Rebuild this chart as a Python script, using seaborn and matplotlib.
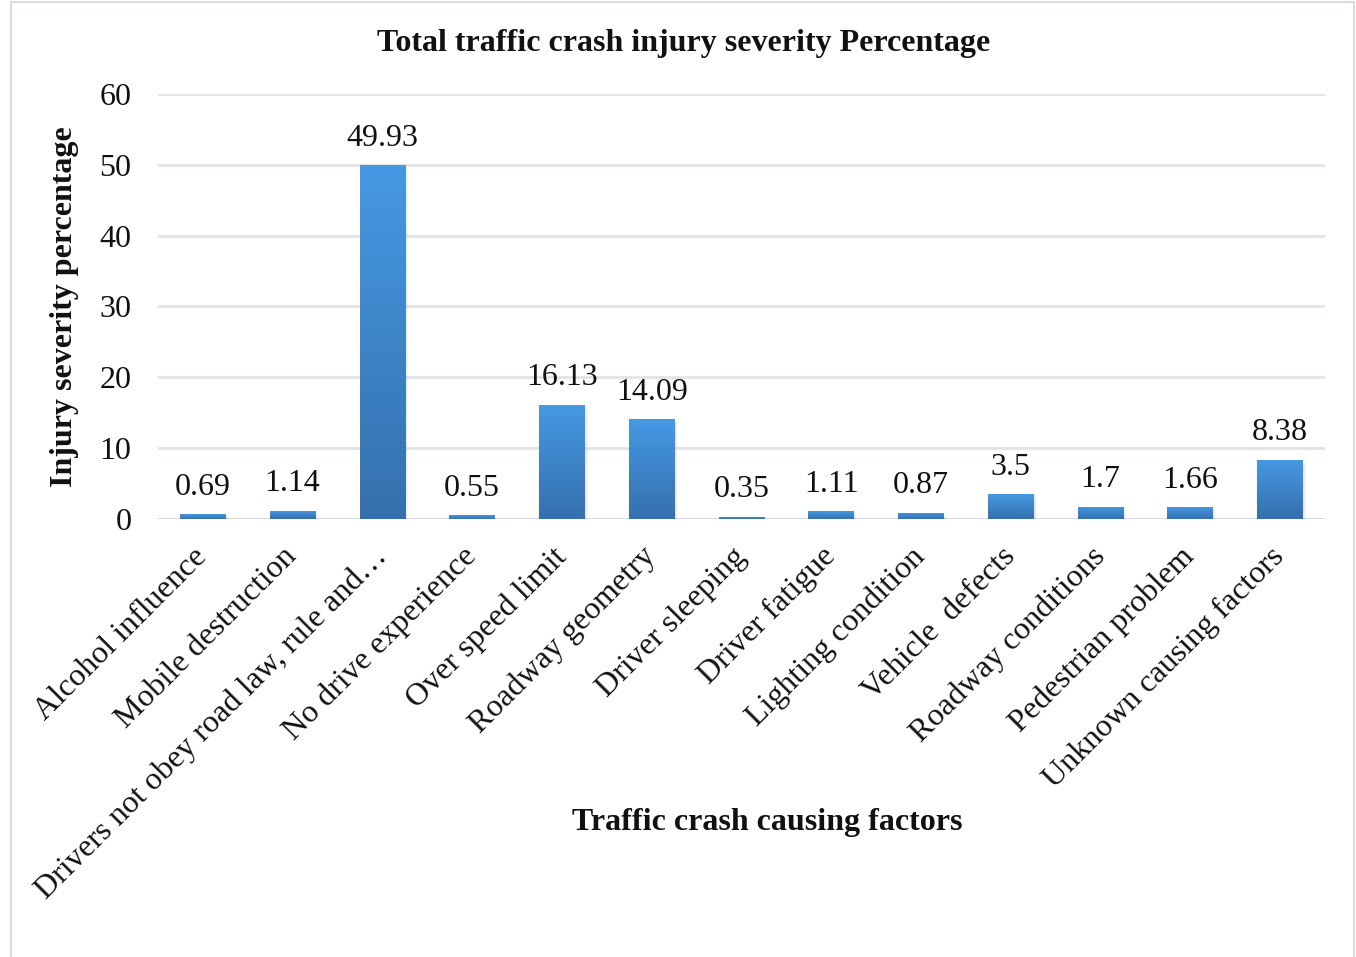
import numpy as np
import pandas as pd
import matplotlib
matplotlib.use("Agg")
import matplotlib.pyplot as plt
import matplotlib.patches as mpatches
from matplotlib.colors import LinearSegmentedColormap
import seaborn as sns

# Crash causing factors and their share of injury severity (%)
factors = [
    "Alcohol influence",
    "Mobile destruction",
    "Drivers not obey road law, rule and\u2026",
    "No drive experience",
    "Over speed limit",
    "Roadway geometry",
    "Driver sleeping",
    "Driver fatigue",
    "Lighting condition",
    "Vehicle  defects",
    "Roadway conditions",
    "Pedestrian problem",
    "Unknown causing factors",
]
percentages = [0.69, 1.14, 49.93, 0.55, 16.13, 14.09, 0.35, 1.11, 0.87, 3.5, 1.7, 1.66, 8.38]
y_ticks = [0, 10, 20, 30, 40, 50, 60]

df = pd.DataFrame({"factor": factors, "pct": percentages})

sns.set_theme(style="white")
plt.rcParams["font.family"] = ["Liberation Serif", "DejaVu Serif"]

FS = 23
fig = plt.figure(figsize=(13.56, 9.57), dpi=100)
ax = fig.add_axes([0.1165, 0.4577, 0.8606, 0.4441])

sns.barplot(data=df, x="factor", y="pct", ax=ax, color="#4193dc",
            width=0.51, saturation=1, linewidth=0, zorder=3)

ax.set_xlim(-0.5, len(factors) - 0.5)
ax.set_ylim(0, 60)
ax.set_yticks(y_ticks)
ax.grid(axis="y", color="#e1e4ea", linewidth=2, zorder=0)
ax.grid(axis="x", visible=False)
for s in ax.spines.values():
    s.set_visible(False)
ax.axhline(0, color="#d6dae0", linewidth=2, zorder=2)

# vertical gradient and soft shadow on each bar
cmap = LinearSegmentedColormap.from_list("bar", ["#3570ad", "#4699e3"])
grad = np.linspace(0, 1, 256).reshape(-1, 1)
bars = list(ax.patches)
for p in bars:
    x0, w, h = p.get_x(), p.get_width(), p.get_height()
    for k, a in enumerate([0.05, 0.05, 0.05]):
        off = 0.012 + k * 0.012
        sh = mpatches.Rectangle((x0 + off * 0.5, -0.35 - k * 0.15), w + off * 0.4,
                                h + 0.1, facecolor="#555555", alpha=a,
                                linewidth=0, zorder=2.5)
        ax.add_patch(sh)
    im = ax.imshow(grad, extent=(x0, x0 + w, 0, h), origin="lower",
                   aspect="auto", cmap=cmap, zorder=3.5, interpolation="bicubic")
    im.set_clip_path(p)

ax.set_xlim(-0.5, len(factors) - 0.5)
ax.set_ylim(0, 60)

labels = [f"{v:g}" for v in percentages]
ax.bar_label(ax.containers[0], labels=labels, padding=9, fontsize=FS, color="#111111")

ax.tick_params(axis="y", length=0, pad=19, labelsize=FS, labelcolor="#111111")
ax.tick_params(axis="x", length=0, pad=24, labelsize=FS, labelcolor="#111111")
for t in ax.get_xticklabels():
    t.set_rotation(45)
    t.set_ha("right")
    t.set_va("center")
    t.set_rotation_mode("anchor")

ax.set_xlabel("")
ax.set_ylabel("Injury severity percentage", fontsize=FS, fontweight="bold",
              color="#111111")
ax.yaxis.set_label_coords(-0.068, 0.5)

fig.text(0.504, 0.955, "Total traffic crash injury severity Percentage",
         ha="center", va="center", fontsize=FS, fontweight="bold", color="#111111")
fig.text(0.566, 0.141, "Traffic crash causing factors",
         ha="center", va="center", fontsize=FS, fontweight="bold", color="#111111")

# chart frame
fig.patches.append(mpatches.Rectangle((11 / 1356, -0.01), 1343 / 1356, 1.008,
                                      transform=fig.transFigure, fill=False,
                                      edgecolor="#d9dde3", linewidth=1.5))

fig.savefig("out.png", dpi=100, facecolor="white")
